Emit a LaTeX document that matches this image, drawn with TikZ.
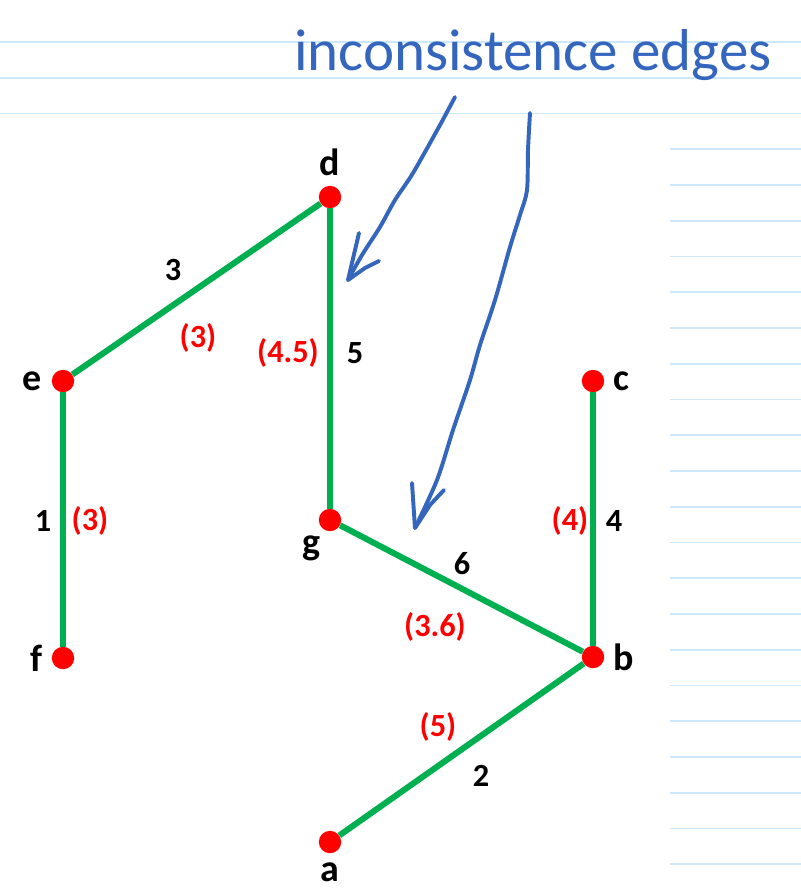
\documentclass[tikz,border=0pt]{standalone}
\usepackage{fontspec}
\setmainfont{Carlito}
\usetikzlibrary{positioning}
\definecolor{linkgreen}{RGB}{0,176,80}
\definecolor{penblue}{RGB}{52,102,190}
\definecolor{ruleblue}{RGB}{204,232,250}

\begin{document}
\begin{tikzpicture}[
x=0.025cm,
y=-0.025cm,
every node/.style={font=\fontsize{23}{27}\selectfont\bfseries},
vtx/.style={circle,fill=red,inner sep=0pt,minimum size=0.56cm},
vname/.style={font=\fontsize{27}{31}\selectfont\bfseries,inner sep=1pt,label distance=5.5pt},
link/.style={draw=linkgreen,line width=4.3pt},
wt/.style={inner sep=1pt,text=black},
cost/.style={inner sep=1pt,text=red},
rule/.style={draw=ruleblue,line width=1.4pt},
pen/.style={draw=penblue,line width=2.8pt,line cap=round,line join=round}
]
\useasboundingbox (0,0) rectangle (801,890);

% ruled paper
\foreach \k in {0,1,2}
  \draw[rule] (0,{42+35.75*\k}) -- (801,{42+35.75*\k});
\foreach \k in {3,...,23}
  \draw[rule] (670,{42+35.75*\k}) -- (801,{42+35.75*\k});

% vertices
\node[vtx,label={[vname]above:d}] (d) at (330,197) {};
\node[vtx,label={[vname]left:e}] (e) at (63,381) {};
\node[vtx,label={[vname]left:f}] (f) at (63,658) {};
\node[vtx,label={[vname,label distance=3pt]-118:g}] (g) at (330,520) {};
\node[vtx,label={[vname]right:c}] (c) at (593,381) {};
\node[vtx,label={[vname]right:b}] (b) at (593,657) {};
\node[vtx,label={[vname]below:a}] (a) at (330,842) {};

% edges
\draw[link] (d) -- (e);
\draw[link] (d) -- (g);
\draw[link] (e) -- (f);
\draw[link] (g) -- (b);
\draw[link] (c) -- (b);
\draw[link] (b) -- (a);

% weights and (estimates)
\node[wt] (wde) at (173,270) {3};
\node[cost] (cde) at (198,338) {(3)};
\node[cost] (cdg) at (288,353) {(4.5)};
\node[wt] (wdg) at (355,353) {5};
\node[wt] (wef) at (43,521) {1};
\node[cost] (cef) at (90,521) {(3)};
\node[wt] (wgb) at (462,564) {6};
\node[cost] (cgb) at (435,627) {(3.6)};
\node[cost] (ccb) at (570,521) {(4)};
\node[wt] (wcb) at (614,521) {4};
\node[cost] (cba) at (438,727) {(5)};
\node[wt] (wba) at (481,776) {2};

% handwritten note
\node[font=\fontsize{42}{46}\selectfont,text=penblue,anchor=base] (note) at (533,70) {inconsistence edges};
\draw[pen] plot[smooth] coordinates {(455,97) (440,125) (413,173) (395,200) (380,227) (362,255) (348,280)};
\draw[pen] (359,233) -- (348,280) -- (365,268) -- (379,261);
\draw[pen] plot[smooth] coordinates {(530,113) (528,150) (527,190) (520,215) (510,247) (495,300) (480,345) (470,380) (453,430) (437,480) (415,528)};
\draw[pen] (412,483) -- (415,528) -- (430,505) -- (444,490);
\end{tikzpicture}
\end{document}
